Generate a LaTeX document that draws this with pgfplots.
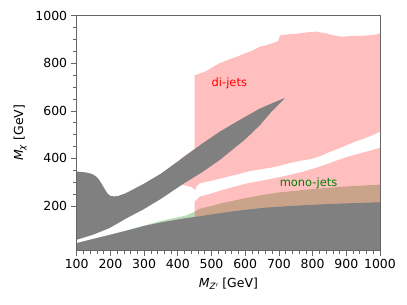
\documentclass[border=0pt]{standalone}
\usepackage{fontspec}
\setmainfont{DejaVu Sans}
\usepackage{pgfplots}
\pgfplotsset{compat=1.18}
\definecolor{bandgrey}{HTML}{808080}
\definecolor{mgreen}{HTML}{008000}
\definecolor{mred}{HTML}{FF0000}
\begin{document}
\begin{tikzpicture}
\path[use as bounding box] (-76.7bp,-55bp) rectangle (330.3bp,250bp);
\begin{axis}[
  at={(0,0)}, anchor=south west,
  scale only axis, width=303.3bp, height=234.3bp,
  xmin=100, xmax=1000, ymin=15, ymax=1000,
  xtick={100,200,...,1000}, ytick={200,400,...,1000},
  minor x tick num=4, minor y tick num=3,
  tick align=outside, xtick pos=bottom, ytick pos=left,
  major tick length=6bp, minor tick length=3.5bp,
  axis line style={black!60},
  every tick/.style={black!60, line width=0.6pt},
  tick label style={font=\fontsize{12.5}{14}\selectfont, black},
  /pgf/number format/assume math mode=true,
  /pgf/number format/1000 sep={},
  axis on top,
  xlabel={\textit{M}\textsubscript{\textit{Z}\raisebox{0.4ex}{\scriptsize$\prime$}} [GeV]},
  ylabel={\textit{M}\textsubscript{\textit{χ}} [GeV]},
  xlabel style={at={(axis description cs:0.5,-0.159)}, anchor=base, font=\fontsize{12.5}{14}\selectfont},
  ylabel style={at={(axis description cs:-0.177,0.5)}, anchor=base, rotate=0, font=\fontsize{12.5}{14}\selectfont},
]
% mono-jets (green, translucent)
\addplot[draw=none, fill=mgreen, fill opacity=0.28] coordinates {
(100,0) (100,44) (200,80) (280,110) (350,137) (424,160) (450,176) (466,189) (500,200) (530,212) (565,222) (600,233) (650,246) (700,257) (750,264) (800,271) (850,277) (900,282) (950,286) (1000,290) (1000,0)
} -- cycle;
% di-jets upper part
\addplot[draw=none, fill=mred, fill opacity=0.25] coordinates {
(450,751) (458,752) (466,758) (478,763) (490,772) (505,785) (525,801) (545,812) (560,820) (580,830) (600,842) (620,852) (644,870) (660,875) (672,880) (698,893) (703,917) (715,919) (730,922) (745,923) (763,926) (790,931) (812,933) (825,929) (840,926) (855,920) (870,915) (890,912) (910,914) (930,915) (950,916) (970,918) (990,921) (1000,926)
(1000,512) (975,496) (950,482) (925,470) (900,455) (875,440) (850,427) (830,414) (807,402) (790,396) (770,392) (750,386) (733,381) (705,370) (680,362) (645,354) (608,345) (575,332) (540,320) (505,308) (480,300) (466,296) (455,282) (452,268) (440,280) (420,287) (410,290) (410,400) (450,440)
} -- cycle;
% di-jets lower part
\addplot[draw=none, fill=mred, fill opacity=0.25] coordinates {
(450,0) (450,219) (466,240) (500,253) (540,270) (575,284) (608,296) (645,305) (680,315) (705,322) (733,331) (770,344) (807,359) (830,370) (850,380) (875,393) (900,405) (925,415) (950,425) (975,434) (1000,445) (1000,0)
} -- cycle;
% lower grey region
\addplot[draw=none, fill=bandgrey] coordinates {
(100,0) (100,44) (150,62) (200,79) (250,97) (300,116) (350,131) (424,149) (466,157) (530,171) (594,183) (660,193) (733,200) (800,205) (878,210) (940,213) (1000,216) (1000,0)
} -- cycle;
% grey band
\addplot[draw=none, fill=bandgrey] coordinates {
(100,58) (100,345) (128,341) (145,335) (157,325) (165,313) (172,298) (180,279) (187,262) (193,250) (200,243) (211,240) (225,243) (246,254) (300,294) (350,336) (415,403) (470,460) (525,513) (585,563) (644,610) (680,632) (705,647) (718,654)
(714,648) (700,628) (680,600) (644,540) (600,480) (525,394) (470,340) (415,292) (350,230) (296,184) (250,150) (197,107) (150,80)
} -- cycle;
\node[text=mred, font=\fontsize{11.5}{13}\selectfont] at (axis cs:553,716) {di-jets};
\node[text=mgreen, font=\fontsize{11.5}{13}\selectfont] at (axis cs:788,296) {mono-jets};
\end{axis}
\end{tikzpicture}
\end{document}
